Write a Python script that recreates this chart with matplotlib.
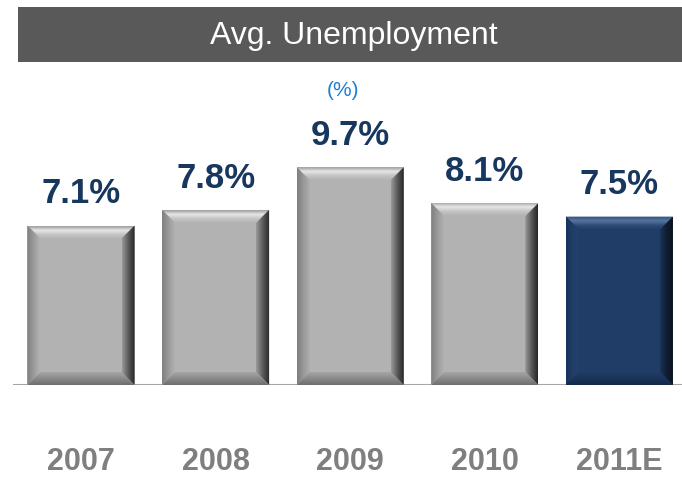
import numpy as np
import matplotlib.pyplot as plt
from matplotlib.patches import Polygon, Rectangle
from matplotlib.colors import LinearSegmentedColormap

years = ['2007', '2008', '2009', '2010', '2011E']
rates = [7.1, 7.8, 9.7, 8.1, 7.5]
labels = ['7.1%', '7.8%', '9.7%', '8.1%', '7.5%']

# face colour and bevel shades (outer -> inner) for each bar
gray_style = {
    'face': '#b2b2b2',
    'top': ['#9c9c9c', '#e6e6e6', '#c4c4c4', '#b2b2b2'],
    'left': ['#7e7e7e', '#9a9a9a', '#b2b2b2'],
    'right': ['#262626', '#5a5a5a', '#9a9a9a'],
    'bottom': ['#6e6e6e', '#8a8a8a', '#a6a6a6'],
}
navy_style = {
    'face': '#1f3d66',
    'top': ['#2f4d78', '#5675a0', '#2e4c77', '#1f3d66'],
    'left': ['#17325a', '#1f3d66', '#23426c'],
    'right': ['#0a121e', '#101e33', '#1a3558'],
    'bottom': ['#14284a', '#1a3459', '#1f3d66'],
}
styles = [gray_style] * 4 + [navy_style]

W, H, DPI = 6.82, 4.78, 100
fig = plt.figure(figsize=(W, H), dpi=DPI)
fig.patch.set_facecolor('white')

# axes: baseline at y=385px, from x=13px to the right edge
base_px, top_px = 385, 70
ax = fig.add_axes([13 / 682, (478 - base_px) / 478, 669 / 682, (base_px - top_px) / 478])
step_px, c0_px = 134.6, 81
xlim = ((13 - c0_px) / step_px, (682 - c0_px) / step_px)
px_per_unit = 22.45
ylim = (0, (base_px - top_px) / px_per_unit)

bar_w = 0.795
bev_px = 13
dx = bev_px / step_px
dy = bev_px / px_per_unit


def grad(ax, colors, extent, clip, horizontal, reverse=False):
    cmap = LinearSegmentedColormap.from_list('g', colors)
    g = np.linspace(0, 1, 128)
    if reverse:
        g = g[::-1]
    arr = g[None, :] if horizontal else g[:, None]
    im = ax.imshow(arr, cmap=cmap, extent=extent, aspect='auto',
                   origin='upper', interpolation='bilinear', zorder=3)
    im.set_clip_path(clip)


bars = ax.bar(range(len(years)), rates, width=bar_w, color=[s['face'] for s in styles],
              zorder=2, linewidth=0)

for bar, st in zip(bars, styles):
    x0 = bar.get_x()
    x1 = x0 + bar.get_width()
    h = bar.get_height()
    top = Polygon([(x0, h), (x1, h), (x1 - dx, h - dy), (x0 + dx, h - dy)],
                  transform=ax.transData, facecolor='none', edgecolor='none')
    left = Polygon([(x0, 0), (x0, h), (x0 + dx, h - dy), (x0 + dx, dy)],
                   transform=ax.transData, facecolor='none', edgecolor='none')
    right = Polygon([(x1, 0), (x1, h), (x1 - dx, h - dy), (x1 - dx, dy)],
                    transform=ax.transData, facecolor='none', edgecolor='none')
    bottom = Polygon([(x0, 0), (x1, 0), (x1 - dx, dy), (x0 + dx, dy)],
                     transform=ax.transData, facecolor='none', edgecolor='none')
    for p in (top, left, right, bottom):
        ax.add_patch(p)
    grad(ax, st['top'], (x0, x1, h - dy, h), top, horizontal=False)
    grad(ax, st['left'], (x0, x0 + dx, 0, h), left, horizontal=True)
    grad(ax, st['right'], (x1 - dx, x1, 0, h), right, horizontal=True, reverse=True)
    grad(ax, st['bottom'], (x0, x1, 0, dy), bottom, horizontal=False, reverse=True)

for i, (v, lab) in enumerate(zip(rates, labels)):
    ax.annotate(lab, (i, v), xytext=(0, 11), textcoords='offset points',
                ha='center', va='bottom', fontsize=25, fontweight='bold',
                color='#17375e', family='Liberation Sans', zorder=5)

ax.axhline(0, color='#a6a6a6', linewidth=1.5, zorder=1)
ax.set_xlim(*xlim)
ax.set_ylim(*ylim)
for s in ax.spines.values():
    s.set_visible(False)
ax.set_xticks(range(len(years)))
ax.set_xticklabels(years, fontsize=22, fontweight='bold', color='#7f7f7f',
                   family='Liberation Sans')
ax.tick_params(axis='x', length=0, pad=45)
ax.set_yticks([])
ax.patch.set_alpha(0)

# title band
fig.add_artist(Rectangle((18 / 682, (478 - 62) / 478), 664 / 682, 55 / 478,
                         transform=fig.transFigure, facecolor='#595959',
                         edgecolor='none'))
fig.text(354 / 682, (478 - 36) / 478, 'Avg. Unemployment', ha='center', va='center',
         fontsize=23, color='white', family=['Liberation Sans Narrow', 'Liberation Sans'])
fig.text(343 / 682, (478 - 91) / 478, '(%)', ha='center', va='center',
         fontsize=15, color='#1f7fd4', family=['Liberation Sans Narrow', 'Liberation Sans'])

fig.savefig('out.png', dpi=DPI)
